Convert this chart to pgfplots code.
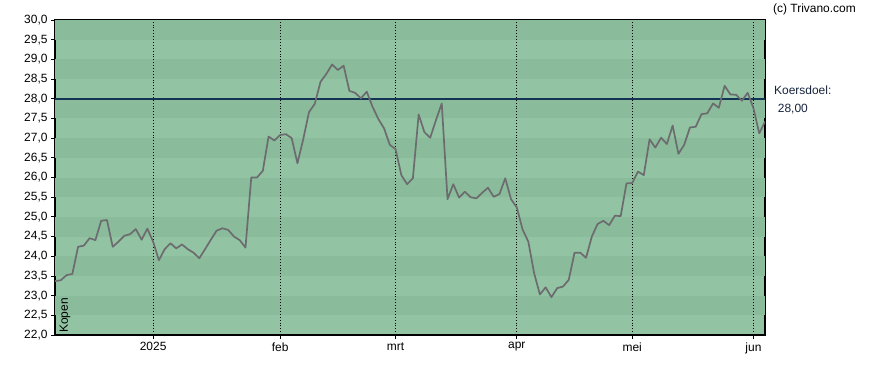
\documentclass[border=0pt]{standalone}
\usepackage{fontspec}
\setmainfont{Liberation Sans}
\usepackage{pgfplots}
\pgfplotsset{compat=1.18}
\definecolor{bandDark}{RGB}{138,187,154}
\definecolor{bandLight}{RGB}{146,195,162}
\definecolor{priceline}{RGB}{108,108,112}
\definecolor{target}{RGB}{20,52,86}
\definecolor{labeltxt}{RGB}{22,36,60}
\pgfplotsset{band/.style={fill=bandDark, draw=none, forget plot},
  month/.style={black, dotted, line width=0.9bp, forget plot}}
\begin{document}
\begin{tikzpicture}
\path[use as bounding box] (-55bp,-35bp) rectangle (833bp,335bp);
\begin{axis}[
  scale only axis, width=710bp, height=315bp,
  at={(0,0)}, anchor=south west,
  xmin=-17, xmax=106, ymin=22, ymax=30,
  axis background/.style={fill=bandLight},
  xtick={0,22,42,63,83,104},
  xticklabels={2025,feb,mrt,apr,mei,jun},
  ytick={22,22.5,...,30},
  xtick pos=bottom, ytick pos=left,
  yticklabel style={/pgf/number format/.cd, fixed, fixed zerofill, precision=1, use comma, assume math mode=true},
  ticklabel style={font=\fontsize{12}{14}\selectfont, text=black},
  tick align=outside, major tick length=4bp,
  tick style={black, line width=0.8bp},
  axis line style={black, line width=1.2bp},
  clip=true,
]
\addplot[band] coordinates {(-17,22.5) (106,22.5) (106,23) (-17,23)};
\addplot[band] coordinates {(-17,23.5) (106,23.5) (106,24) (-17,24)};
\addplot[band] coordinates {(-17,24.5) (106,24.5) (106,25) (-17,25)};
\addplot[band] coordinates {(-17,25.5) (106,25.5) (106,26) (-17,26)};
\addplot[band] coordinates {(-17,26.5) (106,26.5) (106,27) (-17,27)};
\addplot[band] coordinates {(-17,27.5) (106,27.5) (106,28) (-17,28)};
\addplot[band] coordinates {(-17,28.5) (106,28.5) (106,29) (-17,29)};
\addplot[band] coordinates {(-17,29.5) (106,29.5) (106,30) (-17,30)};
\addplot[month] coordinates {(0,22) (0,30)};
\addplot[month] coordinates {(22,22) (22,30)};
\addplot[month] coordinates {(42,22) (42,30)};
\addplot[month] coordinates {(63,22) (63,30)};
\addplot[month] coordinates {(83,22) (83,30)};
\addplot[month] coordinates {(104,22) (104,30)};
\addplot[target, line width=2.2bp, forget plot] coordinates {(-17,28) (106,28)};
\addplot[priceline, line width=1.7bp, line join=round] coordinates {
(-17,23.37) (-16,23.39) (-15,23.52) (-14,23.55) (-13,24.24) (-12,24.27) (-11,24.46) (-10,24.41)
(-9,24.90) (-8,24.92) (-7,24.24) (-6,24.37) (-5,24.52) (-4,24.56) (-3,24.69) (-2,24.42) (-1,24.70)
(0,24.37) (1,23.90) (2,24.18) (3,24.33) (4,24.20) (5,24.30) (6,24.18) (7,24.09) (8,23.95)
(9,24.18) (10,24.42) (11,24.65) (12,24.71) (13,24.67) (14,24.50) (15,24.41) (16,24.22)
(17,26.00) (18,26.00) (19,26.17) (20,27.04) (21,26.94) (22,27.08) (23,27.10) (24,27.00)
(25,26.36) (26,26.97) (27,27.66) (28,27.87) (29,28.43) (30,28.63) (31,28.87) (32,28.73)
(33,28.84) (34,28.20) (35,28.15) (36,28.01) (37,28.18) (38,27.80) (39,27.49) (40,27.25)
(41,26.83) (42,26.72) (43,26.06) (44,25.83) (45,25.98) (46,27.60) (47,27.15) (48,27.01)
(49,27.46) (50,27.88) (51,25.45) (52,25.83) (53,25.49) (54,25.64) (55,25.50) (56,25.47)
(57,25.61) (58,25.74) (59,25.51) (60,25.58) (61,25.98) (62,25.45) (63,25.24) (64,24.68)
(65,24.37) (66,23.57) (67,23.03) (68,23.21) (69,22.96) (70,23.19) (71,23.23) (72,23.40)
(73,24.09) (74,24.09) (75,23.96) (76,24.50) (77,24.82) (78,24.90) (79,24.79) (80,25.03)
(81,25.02) (82,25.85) (83,25.86) (84,26.15) (85,26.06) (86,26.97) (87,26.76) (88,27.01)
(89,26.85) (90,27.32) (91,26.60) (92,26.83) (93,27.27) (94,27.29) (95,27.61) (96,27.63)
(97,27.88) (98,27.77) (99,28.33) (100,28.11) (101,28.10) (102,27.95) (103,28.15) (104,27.76)
(105,27.12) (106,27.42)
};
\node[rotate=90, anchor=base west, inner sep=0pt, font=\fontsize{12}{14}\selectfont] at (axis cs:-14.75,22.05) {Kopen};
\end{axis}
\node[anchor=base west, inner sep=0pt, font=\fontsize{12}{14}\selectfont, text=labeltxt] at (719bp,240bp) {Koersdoel:};
\node[anchor=base west, inner sep=0pt, font=\fontsize{12}{14}\selectfont, text=labeltxt] at (722.7bp,222bp) {28,00};
\node[anchor=base west, inner sep=0pt, font=\fontsize{12}{14}\selectfont, text=black] at (718bp,322.7bp) {(c) Trivano.com};
\end{tikzpicture}
\end{document}
